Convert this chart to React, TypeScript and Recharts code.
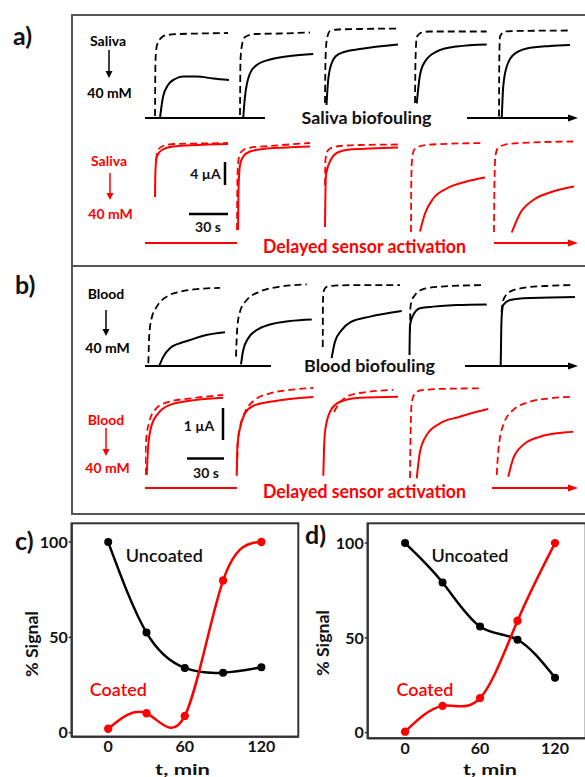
import React from 'react'
import { LineChart, Line, XAxis, YAxis } from 'recharts'

const FONT = 'Lato, "Noto Sans", sans-serif'
const RED = '#ff0000'
const INK = '#111'
const FRAME = '#555'

// [seconds after injection, current in µA]; one inner array per injection (0, 30, 60, 90, 120 min)
type Pt = [number, number]

// a) saliva, bare sensor (black)
const salivaBareDash: Pt[][] = [
  [[0, 0.4], [0.4, 11.6], [1.6, 14.6], [4.8, 16], [9.6, 16.6], [20, 16.8], [36, 16.9], [58.4, 17]],
  [[-0.8, 0.6], [-0.4, 11.6], [0.8, 14.6], [3.2, 16.2], [11.2, 16.8], [31.2, 16.9], [55.2, 17.1]],
  [[-1.6, 3], [-1.2, 11.6], [-0.2, 15.6], [2.4, 17.4], [8.8, 17.7], [26.4, 17.8], [56.8, 17.9]],
  [[1.6, 3], [2, 11.6], [3, 16.2], [7, 17.1], [13.6, 17.3], [58.9, 17.3]],
  [[0, 0.3], [0.24, 11.6], [0.8, 16.3], [4.8, 17.3], [12.8, 17.4], [56.8, 17.5]],
]
const salivaBareSolid: Pt[][] = [
  [[4, 0], [6.4, 4.2], [10.4, 6.6], [16, 7.8], [22.4, 8.3], [33.6, 8.3], [46.4, 7.9], [59.2, 7.6]],
  [[1.8, 0], [3.2, 4.3], [7.2, 8.9], [12.6, 10.6], [23.2, 11.7], [39.2, 12.4], [57.8, 12.8]],
  [[-0.4, 2.6], [0.8, 7.2], [3.2, 10.6], [7.2, 12.4], [13.6, 13.2], [26.4, 13.8], [56.8, 14.7]],
  [[3, 2.9], [5.6, 8.6], [9.6, 11.3], [19, 13.3], [35, 14.3], [59, 14.7]],
  [[2.2, 0], [3.4, 6.3], [6.2, 10.3], [11.4, 12.6], [22.2, 13.9], [40.8, 14.4], [56.8, 14.6]],
]

// a) saliva, coated sensor (red)
const salivaCoatedDash: Pt[][] = [
  [[0.8, 16.6], [2.4, 18.6], [6.4, 19.4], [16, 19.8], [36, 19.9], [58.4, 20]],
  [[-3.2, 2.6], [-2.8, 13.6], [-2, 16.6], [0, 18.2], [5.6, 19], [23.2, 19.4], [55.2, 20]],
  [[-1.6, 11.6], [-1.2, 16.6], [0, 18.2], [2.4, 18.9], [10.4, 19.4], [26.4, 19.6], [56.8, 19.7]],
  [[-1.6, 2.2], [-1.36, 12.6], [-0.8, 16.6], [0.8, 18.6], [4.8, 19.3], [15.2, 19.7], [56.8, 20]],
  [[-4, 2.2], [-3.6, 12.6], [-2.8, 17.6], [-0.8, 19], [4, 19.6], [16.8, 20], [59.2, 20.3]],
]
const salivaCoatedSolid: Pt[][] = [
  [[0, 9.2], [0.24, 13.6], [0.8, 16.2], [1.6, 17.3], [5.4, 18.6], [14.4, 19.3], [33.6, 19.6], [58.4, 19.8]],
  [[-2.4, 2.6], [-2, 10.6], [-0.8, 15.6], [1.8, 17.3], [7.2, 18.3], [17.8, 18.8], [36.6, 19.1], [55.2, 19.3]],
  [[-1.6, 3.2], [-0.96, 13], [0, 14.6], [2.4, 16.3], [7.8, 18], [18.4, 18.7], [34.4, 18.9], [56.8, 19.1]],
  [[5.6, 2.3], [9.6, 5.9], [16.2, 8.9], [27, 10.9], [43, 12.3], [57.6, 13.1]],
  [[10.2, 2.1], [16.8, 5.9], [27.4, 8.6], [40.8, 10.1], [60, 11.3]],
]

// b) blood, bare sensor (black)
const bloodBareDash: Pt[][] = [
  [[0.3, 0.09], [1, 0.99], [2.9, 1.53], [7, 1.9], [15, 2.22], [25.6, 2.38], [39, 2.46], [57.6, 2.5]],
  [[0, 0.3], [1, 1.21], [3.2, 1.74], [8.6, 2.11], [19.2, 2.38], [35.2, 2.54], [56.6, 2.61]],
  [[-1, 0.61], [-0.8, 2.11], [0, 2.43], [2.4, 2.54], [12.8, 2.58], [36.8, 2.59], [60.8, 2.59]],
  [[-1.6, 1.1], [-1.2, 1.9], [0, 2.11], [2.4, 2.27], [9, 2.46], [22.4, 2.54], [56.8, 2.59]],
  [[1.2, 1.73], [2.6, 2.11], [8, 2.38], [18.6, 2.5], [36, 2.56], [58.4, 2.59]],
]
const bloodBareSolid: Pt[][] = [
  [[9, 0], [12.3, 0.3], [17.6, 0.57], [21.6, 0.67], [25.6, 0.73], [33.6, 0.83], [44.3, 0.97], [61.6, 1.08]],
  [[4, 0.05], [5.8, 0.51], [9.8, 0.89], [16.6, 1.15], [27.2, 1.33], [43.2, 1.44], [60.6, 1.49]],
  [[6.1, 0.25], [8.8, 0.78], [14.1, 1.15], [21.6, 1.41], [36.8, 1.58], [62.2, 1.76]],
  [[-2, 0.35], [-1.6, 1.31], [1, 1.63], [6.4, 1.85], [17, 1.9], [35.8, 1.95], [59.8, 1.97]],
  [[0.56, 0], [1, 1.15], [1.6, 1.73], [2.6, 1.95], [8, 2.11], [18.6, 2.17], [40, 2.19], [60, 2.21]],
]

// b) blood, coated sensor (red)
const bloodCoatedDash: Pt[][] = [
  [[-2.4, 0.42], [-1.6, 1.48], [1, 2.12], [5.6, 2.5], [15, 2.74], [39, 2.89], [60.2, 2.98]],
  [[0.8, 0.58], [1.6, 1.54], [3.6, 2.02], [7.2, 2.43], [13.8, 2.78], [27.2, 3.03], [43.2, 3.14], [61.8, 3.2]],
  [[8, 2.43], [11.2, 2.66], [18.2, 2.92], [28.8, 3.04], [55.4, 3.14]],
  [[-1.6, 0.32], [-1.2, 1.54], [-0.4, 2.66], [1.6, 2.98], [6.4, 3.12], [22.4, 3.17], [56.8, 3.19]],
  [[-2.6, 0.42], [-1.4, 1.16], [2.6, 2.02], [10.6, 2.5], [24, 2.76], [40, 2.87], [58.6, 2.92]],
]
const bloodCoatedSolid: Pt[][] = [
  [[-1, 0.42], [0.24, 1.38], [3, 2.02], [8.2, 2.39], [17.6, 2.66], [39, 2.82], [60.2, 2.89]],
  [[0.56, 0.39], [1.2, 1.38], [3.2, 1.91], [7.2, 2.39], [13.8, 2.63], [27.2, 2.76], [43.2, 2.85], [61.8, 2.91]],
  [[-0.56, 0.39], [0, 1.22], [0.8, 1.8], [4.8, 2.44], [12.8, 2.76], [28.8, 2.89], [59.2, 2.92]],
  [[3.8, 0.31], [6.4, 1.16], [11.8, 1.7], [22.4, 2.07], [38.4, 2.28], [48, 2.4], [61, 2.53]],
  [[6.6, 0.36], [10.6, 0.95], [18.6, 1.38], [32, 1.64], [45.4, 1.75], [58.6, 1.8]],
]

// c), d) % signal vs time in sample
const exposureMin = [0, 30, 60, 90, 120]
const salivaUncoatedPct = [100, 52.5, 34, 31.5, 34.3]
const salivaCoatedPct = [2.1, 10.2, 8.8, 79.8, 100]
const bloodUncoatedPct = [100, 79.2, 56, 49, 29]
const bloodCoatedPct = [0.5, 14.1, 18.2, 59, 100]
const pctTicks = [0, 50, 100]
const minTicks = [0, 60, 120]

interface RowProps {
  dash: Pt[][]
  solid: Pt[][]
  color: string
  gap: number
  xDomain: [number, number]
  yMax: number
  top: number
  plotHeight: number
}

function TraceRow(p: RowProps) {
  const rows = (pts: Pt[], k: number) => pts.map(([t, i]) => ({ x: k * p.gap + t, y: i }))
  return (
    <div style={{ position: 'absolute', left: 145, top: p.top }}>
      <LineChart width={430} height={p.plotHeight + 6} margin={{ top: 0, right: 0, bottom: 0, left: 0 }}>
        <XAxis
          type="number"
          dataKey="x"
          domain={p.xDomain}
          allowDataOverflow
          height={6}
          tick={false}
          tickLine={false}
          axisLine={{ stroke: p.color, strokeWidth: 1.8 }}
        />
        <YAxis type="number" dataKey="y" domain={[0, p.yMax]} allowDataOverflow hide />
        {p.solid.map((seg, k) => (
          <Line
            key={'s' + k}
            data={rows(seg, k)}
            dataKey="y"
            type="monotone"
            stroke={p.color}
            strokeWidth={2}
            dot={false}
            activeDot={false}
            isAnimationActive={false}
          />
        ))}
        {p.dash.map((seg, k) => (
          <Line
            key={'d' + k}
            data={rows(seg, k)}
            dataKey="y"
            type="monotone"
            stroke={p.color}
            strokeWidth={1.8}
            strokeDasharray="7 4"
            dot={false}
            activeDot={false}
            isAnimationActive={false}
          />
        ))}
      </LineChart>
    </div>
  )
}

interface PctProps {
  uncoated: number[]
  coated: number[]
  left: number
  width: number
  yAxisWidth: number
  xAxisHeight: number
  xDomain: [number, number]
  yDomain: [number, number]
}

function PctChart(p: PctProps) {
  const data = exposureMin.map((t, i) => ({ t, un: p.uncoated[i], co: p.coated[i] }))
  const tick = { fill: INK, fontSize: 16, fontWeight: 700, fontFamily: FONT }
  return (
    <div style={{ position: 'absolute', left: p.left, top: 513 }}>
      <LineChart width={p.width} height={264} data={data} margin={{ top: 10, right: 0, bottom: 0, left: 0 }}>
        <XAxis
          type="number"
          dataKey="t"
          domain={p.xDomain}
          ticks={minTicks}
          allowDataOverflow
          height={p.xAxisHeight}
          tick={tick}
          tickLine={false}
          tickSize={4}
          tickMargin={0}
          axisLine={{ stroke: '#333', strokeWidth: 2 }}
        />
        <YAxis
          type="number"
          domain={p.yDomain}
          ticks={pctTicks}
          allowDataOverflow
          width={p.yAxisWidth}
          tick={tick}
          tickSize={3}
          tickMargin={1}
          tickLine={{ stroke: '#333', strokeWidth: 1.5 }}
          axisLine={{ stroke: '#333', strokeWidth: 2 }}
        />
        <Line
          dataKey="un"
          type="natural"
          stroke="#000"
          strokeWidth={2.5}
          dot={{ r: 4, fill: '#000', stroke: '#000', strokeWidth: 0 }}
          activeDot={false}
          isAnimationActive={false}
        />
        <Line
          dataKey="co"
          type="natural"
          stroke={RED}
          strokeWidth={2.5}
          dot={{ r: 4.2, fill: RED, stroke: RED, strokeWidth: 0 }}
          activeDot={false}
          isAnimationActive={false}
        />
      </LineChart>
    </div>
  )
}

function T(props: {
  x: number
  y: number
  size: number
  text: string
  color?: string
  len?: number
  weight?: number
  anchor?: 'start' | 'middle' | 'end'
  rotate?: boolean
}) {
  const { x, y, size, text, color = INK, len, weight = 700, anchor = 'middle', rotate } = props
  return (
    <text
      x={x}
      y={y}
      fontSize={size}
      fontWeight={weight}
      fontFamily={FONT}
      fill={color}
      textAnchor={anchor}
      dominantBaseline="central"
      textLength={len}
      lengthAdjust={len ? 'spacingAndGlyphs' : undefined}
      transform={rotate ? `rotate(-90 ${x} ${y})` : undefined}
    >
      {text}
    </text>
  )
}

function DownArrow({ x, y1, y2, color }: { x: number; y1: number; y2: number; color: string }) {
  return (
    <g>
      <line x1={x} x2={x} y1={y1} y2={y2 - 5} stroke={color} strokeWidth={1.5} />
      <polygon points={`${x - 3.5},${y2 - 7} ${x + 3.5},${y2 - 7} ${x},${y2}`} fill={color} />
    </g>
  )
}

function Head({ y, color }: { y: number; color: string }) {
  return <polygon points={`568,${y - 3.5} 578,${y} 568,${y + 3.5}`} fill={color} />
}

function Sample({ name, color, top, arrowX, y }: { name: string; color: string; top: number; arrowX: number; y: number[] }) {
  return (
    <g>
      <T x={top} y={y[0]} size={14} text={name} color={color} />
      <DownArrow x={arrowX} y1={y[1]} y2={y[2]} color={color} />
      <T x={top + 1.5} y={y[3]} size={14} text="40 mM" color={color} />
    </g>
  )
}

export default function App() {
  return (
    <div style={{ position: 'absolute', left: 0, top: 0, width: 585, height: 777, background: '#fff', overflow: 'hidden' }}>
      <TraceRow dash={salivaBareDash} solid={salivaBareSolid} color="#000" gap={68.8} xDomain={[-8, 336]} yMax={20} top={18} plotHeight={100} />
      <TraceRow dash={salivaCoatedDash} solid={salivaCoatedSolid} color={RED} gap={68.8} xDomain={[-8, 336]} yMax={21} top={138} plotHeight={105} />
      <TraceRow dash={bloodBareDash} solid={bloodBareSolid} color="#000" gap={70.4} xDomain={[-2.4, 341.6]} yMax={3.2} top={266} plotHeight={100} />
      <TraceRow dash={bloodCoatedDash} solid={bloodCoatedSolid} color={RED} gap={70.4} xDomain={[-2.4, 341.6]} yMax={3.36} top={383} plotHeight={105} />

      <PctChart uncoated={salivaUncoatedPct} coated={salivaCoatedPct} left={0} width={298} yAxisWidth={71.7} xAxisHeight={40.3} xDomain={[-28.6, 148.7]} yDomain={[-2.1, 110]} />
      <PctChart uncoated={bloodUncoatedPct} coated={bloodCoatedPct} left={290} width={295} yAxisWidth={77.7} xAxisHeight={38.7} xDomain={[-29.9, 144]} yDomain={[-3, 110.6]} />

      <svg width={585} height={777} style={{ position: 'absolute', left: 0, top: 0, pointerEvents: 'none' }}>
        {/* frames */}
        <rect x={72} y={15} width={530} height={499} fill="none" stroke={FRAME} strokeWidth={2} />
        <line x1={72} x2={585} y1={266} y2={266} stroke={FRAME} strokeWidth={2} />
        <rect x={71.7} y={523.3} width={226.6} height={213.4} fill="none" stroke="#333" strokeWidth={2} />
        <rect x={367.7} y={523.3} width={218} height={215} fill="none" stroke="#333" strokeWidth={2} />

        {/* panel letters */}
        <T x={13} y={35} size={25} text="a)" anchor="start" />
        <T x={15} y={284} size={25} text="b)" anchor="start" />
        <T x={15} y={540} size={25} text="c)" anchor="start" />
        <T x={305} y={534} size={25} text="d)" anchor="start" />

        {/* sample labels */}
        <Sample name="Saliva" color="#000" top={108} arrowX={109} y={[40, 50, 78, 92]} />
        <Sample name="Saliva" color={RED} top={109} arrowX={110} y={[160, 173, 200, 213]} />
        <Sample name="Blood" color="#000" top={106} arrowX={106} y={[293, 310, 336, 347]} />
        <Sample name="Blood" color={RED} top={106} arrowX={106} y={[419, 428, 456, 467]} />

        {/* scale bars */}
        <T x={205.5} y={173.5} size={14} text="4 µA" />
        <line x1={225} x2={225} y1={162} y2={185} stroke="#000" strokeWidth={2.5} />
        <line x1={189} x2={228} y1={214} y2={214} stroke="#000" strokeWidth={2.5} />
        <T x={208} y={226} size={14} text="30 s" />
        <T x={199} y={425.7} size={14} text="1 µA" />
        <line x1={223} x2={223} y1={408} y2={440} stroke="#000" strokeWidth={2.5} />
        <line x1={187} x2={224} y1={458.5} y2={458.5} stroke="#000" strokeWidth={2.5} />
        <T x={206} y={472} size={14} text="30 s" />

        {/* baseline captions and arrow heads */}
        <rect x={265} y={113} width={202} height={10} fill="#fff" />
        <T x={366.5} y={117} size={17} text="Saliva biofouling" len={130} />
        <Head y={118} color="#000" />
        <rect x={237} y={238} width={257} height={10} fill="#fff" />
        <T x={364.5} y={245} size={19} text="Delayed sensor activation" color={RED} len={203} />
        <Head y={243} color={RED} />
        <rect x={271} y={361} width={194} height={10} fill="#fff" />
        <T x={369.5} y={365} size={17} text="Blood biofouling" len={131} />
        <Head y={366} color="#000" />
        <rect x={237} y={483} width={255} height={10} fill="#fff" />
        <T x={364.5} y={490} size={19} text="Delayed sensor activation" color={RED} len={203} />
        <Head y={488} color={RED} />

        {/* c) and d) annotations */}
        <T x={164.3} y={555} size={17} text="Uncoated" weight={600} len={77} />
        <T x={118.3} y={689} size={17} text="Coated" weight={600} color={RED} len={57} />
        <T x={31.7} y={644} size={17} text="% Signal" rotate len={66} />
        <T x={182.5} y={768.5} size={16} text="t, min" len={55} />
        <T x={470} y={555} size={17} text="Uncoated" weight={600} len={77} />
        <T x={425} y={689} size={17} text="Coated" weight={600} color={RED} len={57} />
        <T x={322.5} y={643} size={17} text="% Signal" rotate len={66} />
        <T x={490} y={768.5} size={16} text="t, min" len={54} />
      </svg>
    </div>
  )
}
